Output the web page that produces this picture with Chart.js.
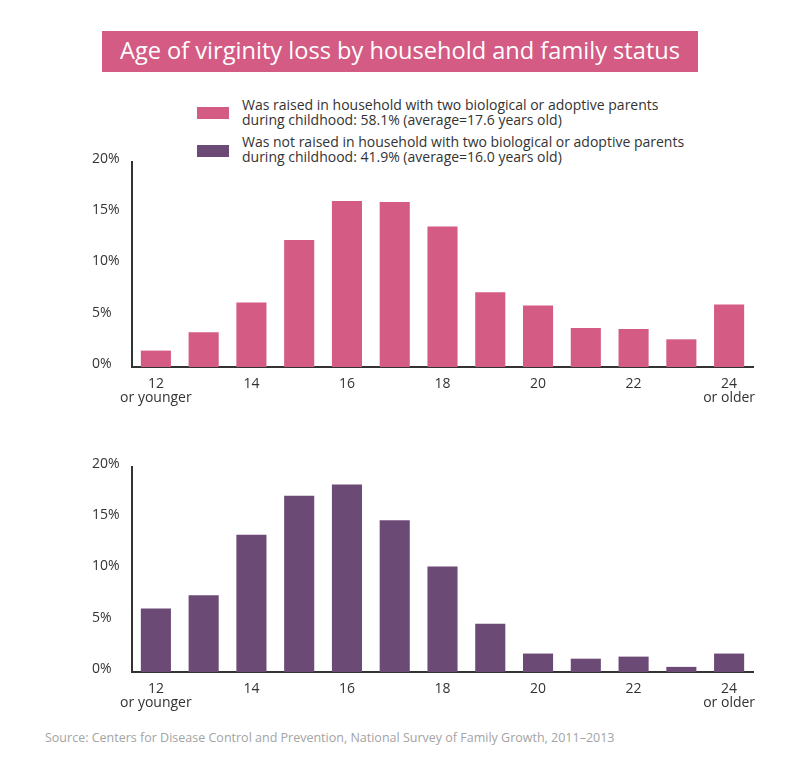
<!DOCTYPE html>
<html>
<head>
<meta charset="utf-8">
<script src="https://cdn.jsdelivr.net/npm/chart.js@4"></script>
<style>
  body { margin: 0; background: #fff; font-family: "Open Sans", sans-serif; }
  #page { position: relative; width: 800px; height: 771px; }
  #title {
    position: absolute; left: 102px; top: 31px; width: 596px; height: 41px;
    background: #D35B84; color: #fff; font-size: 23.6px; line-height: 39px; text-align: center;
  }
  .legendRow { position: absolute; left: 197px; font-size: 14px; color: #333; line-height: 15px; }
  .legendRow .sw { position: absolute; left: 0; top: 10px; width: 32px; height: 12px; }
  .legendRow .txt { position: absolute; left: 45px; top: 0; width: 540px; white-space: nowrap; }
  #source { position: absolute; left: 45px; top: 729px; font-size: 12.5px; color: #a3a3a3; white-space: nowrap; }
  canvas { position: absolute; }
</style>
</head>
<body>
<div id="page">
  <div id="title"></div>
  <div class="legendRow" id="leg1" style="top:97px"><div class="sw"></div><div class="txt"></div></div>
  <div class="legendRow" id="leg2" style="top:134px"><div class="sw" style="top:11px"></div><div class="txt"></div></div>
  <div style="position:absolute;left:80px;top:150px;width:690px;height:257px"><canvas id="chartTop"></canvas></div>
  <div style="position:absolute;left:80px;top:455px;width:690px;height:257px"><canvas id="chartBottom"></canvas></div>
  <div id="source"></div>
</div>
<script>
const titleText = 'Age of virginity loss by household and family status';
const sourceText = 'Source: Centers for Disease Control and Prevention, National Survey of Family Growth, 2011\u20132013';

const ages = ['12', '13', '14', '15', '16', '17', '18', '19', '20', '21', '22', '23', '24'];
const ageLabels = [['12', 'or younger'], '', '14', '', '16', '', '18', '', '20', '', '22', '', ['24', 'or older']];

const twoParentLabel = ['Was raised in household with two biological or adoptive parents', 'during childhood: 58.1% (average=17.6 years old)'];
const twoParentValues = [1.6, 3.4, 6.3, 12.4, 16.2, 16.1, 13.7, 7.3, 6.0, 3.8, 3.7, 2.7, 6.1];

const otherLabel = ['Was not raised in household with two biological or adoptive parents', 'during childhood: 41.9% (average=16.0 years old)'];
const otherValues = [6.2, 7.5, 13.4, 17.2, 18.3, 14.8, 10.3, 4.7, 1.8, 1.3, 1.5, 0.5, 1.8];

const pink = '#D35B84';
const purple = '#6C4A76';

document.getElementById('title').textContent = titleText;
document.getElementById('source').textContent = sourceText;

function setLegend(id, label, color) {
    const row = document.getElementById(id);
    row.querySelector('.sw').style.background = color;
    row.querySelector('.txt').innerHTML = label.join('<br>');
}
setLegend('leg1', twoParentLabel, pink);
setLegend('leg2', otherLabel, purple);

function makeChart(canvasId, label, values, color) {
    const ctx = document.getElementById(canvasId);
    return new Chart(ctx, {
        type: 'bar',
        data: {
            labels: ages,
            datasets: [{
                label: label.join(' '),
                data: values,
                backgroundColor: color,
                barPercentage: 0.63,
                categoryPercentage: 1
            }]
        },
        options: {
            responsive: true,
            maintainAspectRatio: false,
            animation: false,
            layout: { padding: { left: 12, right: 17, top: 12, bottom: 0 } },
            plugins: {
                legend: { display: false },
                tooltip: { enabled: false }
            },
            scales: {
                x: {
                    grid: { display: false },
                    border: { display: true, color: '#333', width: 2 },
                    afterFit: axis => { axis.height = 40; },
                    ticks: {
                        autoSkip: false,
                        maxRotation: 0,
                        padding: 2,
                        color: '#333',
                        font: { family: 'Open Sans', size: 14, lineHeight: 1.0 },
                        callback: (v, i) => ageLabels[i]
                    }
                },
                y: {
                    min: 0,
                    max: 20,
                    grid: { display: false },
                    border: { display: true, color: '#333', width: 2 },
                    afterFit: axis => { axis.width = 40; },
                    ticks: {
                        stepSize: 5,
                        crossAlign: 'far',
                        labelOffset: -3,
                        color: '#333',
                        font: { family: 'Open Sans', size: 14 },
                        callback: v => v + '%'
                    }
                }
            }
        }
    });
}

makeChart('chartTop', twoParentLabel, twoParentValues, pink);
makeChart('chartBottom', otherLabel, otherValues, purple);
</script>
</body>
</html>
